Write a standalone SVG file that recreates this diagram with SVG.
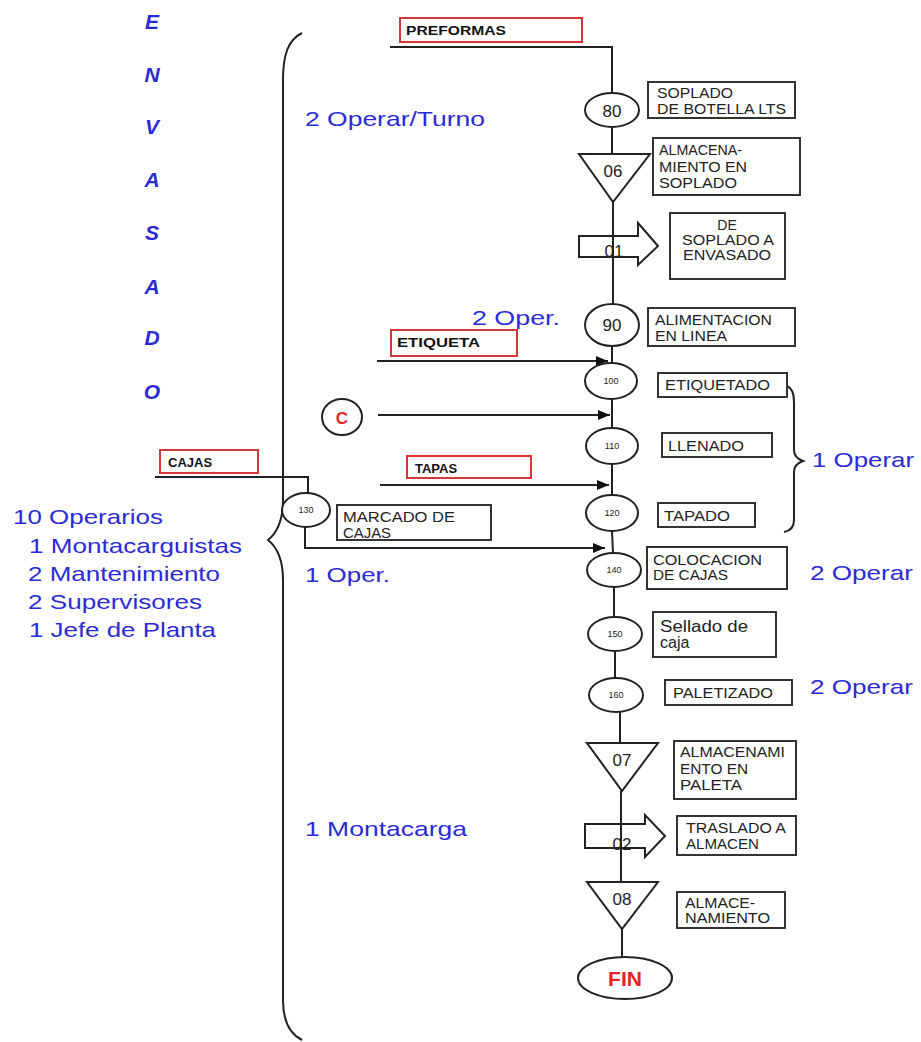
<svg xmlns="http://www.w3.org/2000/svg" width="921" height="1042" viewBox="0 0 921 1042">
<style>
.bl{font-family:"Liberation Sans",Arial,sans-serif;font-size:21px;fill:#2b2bd6}
.env{font-family:"Liberation Sans",Arial,sans-serif;font-size:21px;font-weight:bold;font-style:italic;fill:#2b2bd6;text-anchor:middle}
.bx{fill:#fff;stroke:#333;stroke-width:2}
.rb{fill:#fff;stroke:#d9363a;stroke-width:2}
.t{font-family:"Liberation Sans",Arial,sans-serif;font-size:14px;fill:#222}
.tb{font-family:"Liberation Sans",Arial,sans-serif;font-size:13px;font-weight:bold;fill:#111}
.el{fill:#fff;stroke:#222;stroke-width:2}
.n{font-family:"Liberation Sans",Arial,sans-serif;fill:#222;text-anchor:middle}
.ln{fill:none;stroke:#222;stroke-width:2}
.sh{fill:none;stroke:#222;stroke-width:2}
</style>
<defs>
<marker id="ah" markerWidth="12" markerHeight="10" refX="12" refY="5" orient="auto" markerUnits="userSpaceOnUse">
<path d="M0,0 L12,5 L0,10 Z" fill="#111"/>
</marker>
</defs>

<g id="labels">
<text class="env" x="152" y="29">E</text>
<text class="env" x="152" y="82">N</text>
<text class="env" x="152" y="134">V</text>
<text class="env" x="152" y="187">A</text>
<text class="env" x="152" y="240">S</text>
<text class="env" x="152" y="294">A</text>
<text class="env" x="152" y="345">D</text>
<text class="env" x="152" y="399">O</text>
<text class="bl" x="305" y="126" textLength="180" lengthAdjust="spacingAndGlyphs">2 Operar/Turno</text>
<text class="bl" x="472" y="325" textLength="88" lengthAdjust="spacingAndGlyphs">2 Oper.</text>
<text class="bl" x="812" y="467" textLength="102" lengthAdjust="spacingAndGlyphs">1 Operar</text>
<text class="bl" x="810" y="580" textLength="103" lengthAdjust="spacingAndGlyphs">2 Operar</text>
<text class="bl" x="810" y="694" textLength="103" lengthAdjust="spacingAndGlyphs">2 Operar</text>
<text class="bl" x="305" y="582" textLength="85" lengthAdjust="spacingAndGlyphs">1 Oper.</text>
<text class="bl" x="305" y="836" textLength="162" lengthAdjust="spacingAndGlyphs">1 Montacarga</text>
<text class="bl" x="13" y="524" textLength="150" lengthAdjust="spacingAndGlyphs">10 Operarios</text>
<text class="bl" x="29" y="553" textLength="213" lengthAdjust="spacingAndGlyphs">1 Montacarguistas</text>
<text class="bl" x="28" y="581" textLength="192" lengthAdjust="spacingAndGlyphs">2 Mantenimiento</text>
<text class="bl" x="28" y="609" textLength="174" lengthAdjust="spacingAndGlyphs">2 Supervisores</text>
<text class="bl" x="29" y="637" textLength="187" lengthAdjust="spacingAndGlyphs">1 Jefe de Planta</text>
</g>

<g id="braces">
<path class="ln" d="M302,33 C288,40 283,55 283,80 L283,500 C283,520 278,532 268,540 C278,548 283,560 283,580 L283,1000 C283,1022 290,1034 302,1040"/>
<path class="ln" stroke-width="1.8" d="M787,386 C792,388 794,394 794,402 L794,450 C794,455 797,459 803,461 C797,463 794,467 794,472 L794,520 C794,527 790,531 784,532"/>
</g>

<g id="connectors">
<polyline class="ln" points="390,47 612,47 612,93"/>
<line class="ln" x1="612" y1="127" x2="612" y2="154"/>
<line class="ln" x1="613" y1="202" x2="613" y2="304"/>
<line class="ln" x1="612" y1="346" x2="612" y2="363"/>
<line class="ln" x1="612" y1="399" x2="612" y2="428"/>
<line class="ln" x1="612" y1="464" x2="612" y2="495" stroke-width="3"/>
<line class="ln" x1="612" y1="531" x2="613" y2="553"/>
<line class="ln" x1="614" y1="587" x2="614" y2="617"/>
<line class="ln" x1="615" y1="651" x2="615" y2="678"/>
<line class="ln" x1="620" y1="711" x2="620" y2="743"/>
<line class="ln" x1="621" y1="791" x2="621" y2="882"/>
<line class="ln" x1="622" y1="929" x2="622" y2="957"/>
<line class="ln" x1="377" y1="361" x2="608" y2="361" marker-end="url(#ah)"/>
<line class="ln" x1="378" y1="415" x2="610" y2="415" marker-end="url(#ah)"/>
<line class="ln" x1="380" y1="485" x2="609" y2="485" marker-end="url(#ah)"/>
<line class="ln" x1="612" y1="477" x2="612" y2="493" stroke-width="3.5"/>
<polyline class="ln" points="155,477 308,477 308,493"/>
<polyline class="ln" points="305,527 305,548 605,548" marker-end="url(#ah)"/>
</g>

<g id="preformas"><rect class="rb" x="400" y="18" width="182" height="24"/><text class="tb" x="406" y="35" textLength="100" lengthAdjust="spacingAndGlyphs">PREFORMAS</text></g>
<g id="etiqueta"><rect class="rb" x="391" y="330" width="126" height="26"/><text class="tb" x="397" y="347" textLength="83" lengthAdjust="spacingAndGlyphs">ETIQUETA</text></g>
<g id="tapas"><rect class="rb" x="407" y="456" width="124" height="22"/><text class="tb" x="415" y="473">TAPAS</text></g>
<g id="cajas"><rect class="rb" x="160" y="450" width="98" height="23"/><text class="tb" x="168" y="467">CAJAS</text></g>
<g id="c"><ellipse class="el" cx="342" cy="417" rx="20" ry="18"/><text class="n" x="342" y="424" font-size="17" font-weight="bold" style="fill:#e02a2a">C</text></g>

<g id="op80"><ellipse class="el" cx="612" cy="110" rx="27" ry="17"/><text class="n" x="612" y="117" font-size="17">80</text>
<rect class="bx" x="648" y="82" width="147" height="36"/><text class="t" x="657" y="98" textLength="76" lengthAdjust="spacingAndGlyphs">SOPLADO</text><text class="t" x="657" y="114" textLength="129" lengthAdjust="spacingAndGlyphs">DE BOTELLA LTS</text></g>

<g id="al06"><polygon class="sh" points="579,154 650,154 613,202"/><text class="n" x="613" y="177" font-size="17">06</text>
<rect class="bx" x="653" y="138" width="147" height="57"/><text class="t" x="659" y="155" textLength="83" lengthAdjust="spacingAndGlyphs">ALMACENA-</text><text class="t" x="659" y="172" textLength="88" lengthAdjust="spacingAndGlyphs">MIENTO EN</text><text class="t" x="659" y="188" textLength="78" lengthAdjust="spacingAndGlyphs">SOPLADO</text></g>

<g id="tr01"><polygon class="sh" points="579,236 638,236 638,223 658,246 638,265 638,257 579,257"/><text class="n" x="614" y="257" font-size="17">01</text>
<rect class="bx" x="670" y="213" width="115" height="66"/><text class="t" x="727" y="230" text-anchor="middle">DE</text><text class="t" x="728" y="245" text-anchor="middle" textLength="92" lengthAdjust="spacingAndGlyphs">SOPLADO A</text><text class="t" x="727" y="260" text-anchor="middle" textLength="88" lengthAdjust="spacingAndGlyphs">ENVASADO</text></g>

<g id="op90"><ellipse class="el" cx="612" cy="325" rx="27" ry="21"/><text class="n" x="612" y="331" font-size="17">90</text>
<rect class="bx" x="648" y="308" width="147" height="38"/><text class="t" x="655" y="325" textLength="117" lengthAdjust="spacingAndGlyphs">ALIMENTACION</text><text class="t" x="655" y="341" textLength="72" lengthAdjust="spacingAndGlyphs">EN LINEA</text></g>

<g id="op100"><ellipse class="el" cx="611" cy="381" rx="26" ry="18"/><text class="n" x="611" y="384" font-size="9">100</text>
<rect class="bx" x="658" y="373" width="129" height="24"/><text class="t" x="665" y="390" textLength="105" lengthAdjust="spacingAndGlyphs">ETIQUETADO</text></g>

<g id="op110"><ellipse class="el" cx="612" cy="446" rx="26" ry="18"/><text class="n" x="612" y="449" font-size="9">110</text>
<rect class="bx" x="662" y="433" width="110" height="24"/><text class="t" x="668" y="451" textLength="76" lengthAdjust="spacingAndGlyphs">LLENADO</text></g>

<g id="op120"><ellipse class="el" cx="612" cy="513" rx="26" ry="18"/><text class="n" x="612" y="516" font-size="9">120</text>
<rect class="bx" x="658" y="503" width="97" height="24"/><text class="t" x="664" y="521" textLength="66" lengthAdjust="spacingAndGlyphs">TAPADO</text></g>

<g id="op130"><ellipse class="el" cx="306" cy="510" rx="24" ry="17"/><text class="n" x="306" y="513" font-size="9">130</text>
<rect class="bx" x="337" y="505" width="154" height="35"/><text class="t" x="343" y="522" textLength="112" lengthAdjust="spacingAndGlyphs">MARCADO DE</text><text class="t" x="343" y="538" textLength="48" lengthAdjust="spacingAndGlyphs">CAJAS</text></g>

<g id="op140"><ellipse class="el" cx="614" cy="570" rx="27" ry="17"/><text class="n" x="614" y="573" font-size="9">140</text>
<rect class="bx" x="647" y="547" width="140" height="42"/><text class="t" x="653" y="565" textLength="109" lengthAdjust="spacingAndGlyphs">COLOCACION</text><text class="t" x="653" y="580" textLength="75" lengthAdjust="spacingAndGlyphs">DE CAJAS</text></g>

<g id="op150"><ellipse class="el" cx="615" cy="634" rx="27" ry="17"/><text class="n" x="615" y="637" font-size="9">150</text>
<rect class="bx" x="653" y="612" width="123" height="45"/><text class="t" x="660" y="632" style="font-size:16px" textLength="88" lengthAdjust="spacingAndGlyphs">Sellado de</text><text class="t" x="660" y="648" style="font-size:16px">caja</text></g>

<g id="op160"><ellipse class="el" cx="616" cy="695" rx="27" ry="17"/><text class="n" x="616" y="698" font-size="9">160</text>
<rect class="bx" x="665" y="680" width="127" height="25"/><text class="t" x="673" y="698" textLength="100" lengthAdjust="spacingAndGlyphs">PALETIZADO</text></g>

<g id="al07"><polygon class="sh" points="587,743 658,743 622,791"/><text class="n" x="622" y="766" font-size="17">07</text>
<rect class="bx" x="674" y="741" width="122" height="58"/><text class="t" x="680" y="757" textLength="105" lengthAdjust="spacingAndGlyphs">ALMACENAMI</text><text class="t" x="680" y="774" textLength="68" lengthAdjust="spacingAndGlyphs">ENTO EN</text><text class="t" x="680" y="790" textLength="62" lengthAdjust="spacingAndGlyphs">PALETA</text></g>

<g id="tr02"><polygon class="sh" points="585,824 645,824 645,815 665,836 645,857 645,848 585,848"/><text class="n" x="622" y="850" font-size="17">02</text>
<rect class="bx" x="677" y="816" width="119" height="39"/><text class="t" x="686" y="833" textLength="100" lengthAdjust="spacingAndGlyphs">TRASLADO A</text><text class="t" x="686" y="849" textLength="73" lengthAdjust="spacingAndGlyphs">ALMACEN</text></g>

<g id="al08"><polygon class="sh" points="587,882 658,882 622,929"/><text class="n" x="622" y="905" font-size="17">08</text>
<rect class="bx" x="677" y="892" width="108" height="36"/><text class="t" x="685" y="908" textLength="70" lengthAdjust="spacingAndGlyphs">ALMACE-</text><text class="t" x="685" y="923" textLength="85" lengthAdjust="spacingAndGlyphs">NAMIENTO</text></g>

<g id="fin"><ellipse class="el" cx="625" cy="978" rx="47" ry="21"/><text class="n" x="625" y="986" font-size="21" font-weight="bold" style="fill:#e8202a">FIN</text></g>
</svg>
